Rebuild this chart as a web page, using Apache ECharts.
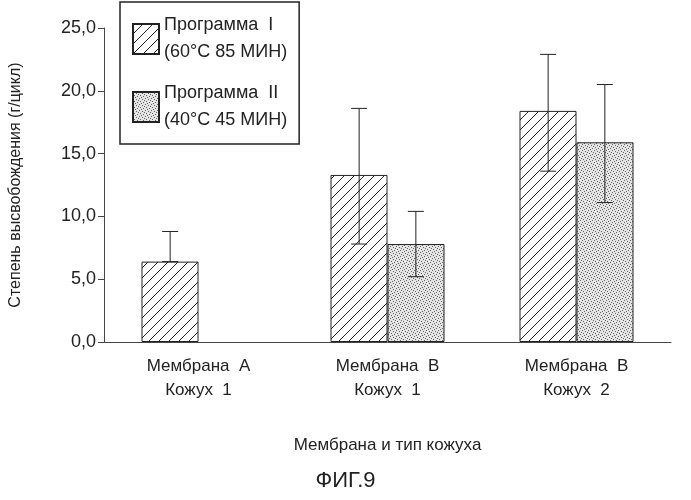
<!DOCTYPE html>
<html><head><meta charset="utf-8">
<script src="https://cdn.jsdelivr.net/npm/echarts@6/dist/echarts.min.js"></script>
<style>html,body{margin:0;background:#fff}#main{width:691px;height:500px}</style>
</head><body><div id="main"></div>
<script>
const categories = ['Мембрана  А\nКожух  1', 'Мембрана  В\nКожух  1', 'Мембрана  В\nКожух  2'];
const progIValues = [6.4, 13.3, 18.4];
const progILow = [6.4, 7.8, 13.6];
const progIHigh = [8.8, 18.6, 22.9];
const progIIValues = [null, 7.8, 15.9];
const progIILow = [null, 5.2, 11.1];
const progIIHigh = [null, 10.4, 20.5];
const legendNames = ['Программа  I\n(60°C 85 МИН)', 'Программа  II\n(40°C 45 МИН)'];

function hatch() {
  const c = document.createElement('canvas'); c.width = c.height = 10;
  const g = c.getContext('2d');
  g.fillStyle = '#fff'; g.fillRect(0, 0, 10, 10);
  g.strokeStyle = '#222'; g.lineWidth = 1;
  g.beginPath(); g.moveTo(0, 10); g.lineTo(10, 0); g.moveTo(-5, 5); g.lineTo(5, -5); g.moveTo(5, 15); g.lineTo(15, 5); g.stroke();
  return c;
}
function stipple() {
  const c = document.createElement('canvas'); c.width = c.height = 6;
  const g = c.getContext('2d');
  g.fillStyle = '#e4e4e4'; g.fillRect(0, 0, 6, 6);
  g.fillStyle = '#666';
  [[0,0],[3,1],[1,3],[4,4],[2,5],[5,2]].forEach(p => g.fillRect(p[0], p[1], 1, 1));
  return c;
}
const fillI = { image: hatch(), repeat: 'repeat' };
const fillII = { image: stipple(), repeat: 'repeat' };

function errSeries(low, high, offset) {
  return {
    type: 'custom', silent: true, z: 5,
    data: categories.map((c, i) => [i, low[i], high[i]]).filter(d => d[1] != null),
    renderItem(params, api) {
      const i = api.value(0);
      const base = api.coord([i, 0]);
      const band = api.size([1, 0])[0];
      const x = base[0] + offset * band;
      const lo = api.coord([i, api.value(1)])[1];
      const hi = api.coord([i, api.value(2)])[1];
      const st = { stroke: '#222', lineWidth: 1 };
      return { type: 'group', children: [
        { type: 'line', shape: { x1: x, y1: lo, x2: x, y2: hi }, style: st },
        { type: 'line', shape: { x1: x - 8, y1: hi, x2: x + 8, y2: hi }, style: st },
        { type: 'line', shape: { x1: x - 8, y1: lo, x2: x + 8, y2: lo }, style: st }
      ]};
    }
  };
}

const chart = echarts.init(document.getElementById('main'));
chart.setOption({
  animation: false,
  textStyle: { fontFamily: 'Liberation Sans, Arial' },
  grid: { left: 100, right: 20, top: 28, bottom: 158 },
  legend: {
    orient: 'vertical', left: 120, top: 2, itemWidth: 26, itemHeight: 30, itemGap: 14, icon: 'rect',
    padding: [10, 12, 10, 12], borderColor: '#222', borderWidth: 1.5, backgroundColor: '#fff',
    textStyle: { fontSize: 18, color: '#222', lineHeight: 27 },
    data: legendNames
  },
  xAxis: {
    type: 'category', data: categories,
    axisLine: { lineStyle: { color: '#444' } }, axisTick: { show: false },
    axisLabel: { fontSize: 17, color: '#222', lineHeight: 24, margin: 12 },
    name: 'Мембрана и тип кожуха', nameLocation: 'middle', nameGap: 95,
    nameTextStyle: { fontSize: 17, color: '#222' }
  },
  yAxis: {
    type: 'value', min: 0, max: 25, interval: 5,
    axisLine: { show: true, lineStyle: { color: '#444' } }, axisTick: { show: true, length: 6 },
    splitLine: { show: false },
    axisLabel: { fontSize: 18, color: '#222', formatter: v => v.toFixed(1).replace('.', ',') },
    name: 'Степень высвобождения (г/цикл)', nameLocation: 'middle', nameGap: 80,
    nameTextStyle: { fontSize: 16, color: '#222' }
  },
  graphic: [{ type: 'text', left: 'center', top: 470, style: { text: 'ФИГ.9', fontSize: 22, fill: '#222', fontFamily: 'Liberation Sans' } }],
  series: [
    { name: legendNames[0], type: 'bar', data: progIValues, barWidth: 57, barGap: '0%',
      itemStyle: { color: fillI, borderColor: '#222', borderWidth: 1 } },
    { name: legendNames[1], type: 'bar', data: progIIValues, barWidth: 57,
      itemStyle: { color: fillII, borderColor: '#222', borderWidth: 1 } },
    errSeries(progILow, progIHigh, -57 / 190 / 2),
    errSeries(progIILow, progIIHigh, 57 / 190 / 2)
  ]
});
</script></body></html>
